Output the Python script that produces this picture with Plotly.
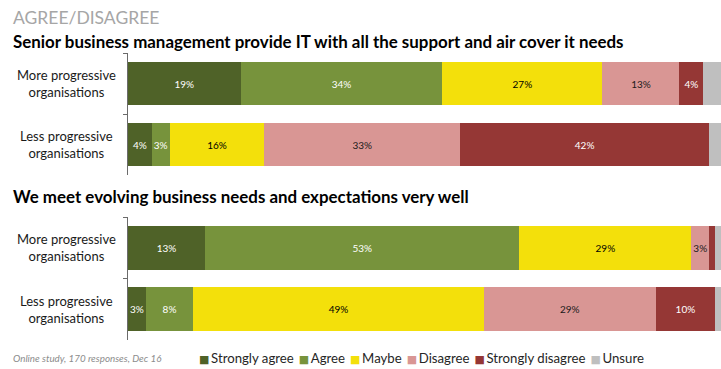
import plotly.graph_objects as go

# ---------------- data ----------------
categories = ["More progressive<br>organisations", "Less progressive<br>organisations"]
responses = ["Strongly agree", "Agree", "Maybe", "Disagree", "Strongly disagree", "Unsure"]

support_more = [19, 34, 27, 13, 4, 3]
support_less = [4, 3, 16, 33, 42, 2]
needs_more = [13, 53, 29, 3, 1, 1]
needs_less = [3, 8, 49, 29, 10, 1]

panel_titles = [
    "Senior business management provide IT with all the support and air cover it needs",
    "We meet evolving business needs and expectations very well",
]
header = "AGREE/DISAGREE"
footnote = "Online study, 170 responses, Dec 16"

# ---------------- style ----------------
colors = ["#4f6228", "#77933c", "#f3e00b", "#d99694", "#953735", "#bfbfbf"]
text_colors = ["white", "white", "black", "#1a1a1a", "white", "black"]
FONT = "Lato, 'DejaVu Sans', sans-serif"
W, H = 721, 369


def py(px):
    return 1 - px / H


fig = go.Figure()

panels = [(support_more, support_less, "x", "y"), (needs_more, needs_less, "x2", "y2")]
for p, (more, less, xa, ya) in enumerate(panels):
    for i, resp in enumerate(responses):
        vals = [more[i], less[i]]
        txt = [f"{v}%" if (v >= 3 and resp != "Unsure") else "" for v in vals]
        fig.add_trace(go.Bar(
            x=vals, y=categories, orientation="h", name=resp,
            marker=dict(color=colors[i], line=dict(width=0)),
            text=txt, textposition="inside", insidetextanchor="middle",
            textangle=0, constraintext="none",
            textfont=dict(color=text_colors[i], size=10, family=FONT),
            showlegend=False, xaxis=xa, yaxis=ya, hoverinfo="x+name",
        ))

x0 = 128 / W
axis_common = dict(type="category", autorange="reversed", showline=True,
                   linecolor="#6b6b6b", linewidth=1, ticks="outside",
                   tickson="boundaries", ticklen=4, tickcolor="#6b6b6b",
                   showticklabels=False, showgrid=False, zeroline=False)

fig.update_layout(
    width=W, height=H, margin=dict(l=0, r=0, t=0, b=0),
    paper_bgcolor="white", plot_bgcolor="white",
    barmode="stack", bargap=0.28, showlegend=False,
    font=dict(family=FONT, color="#222"),
    xaxis=dict(domain=[x0, 1], range=[0, 100], visible=False, anchor="y"),
    xaxis2=dict(domain=[x0, 1], range=[0, 100], visible=False, anchor="y2"),
    yaxis=dict(domain=[py(175), py(53)], anchor="x", **axis_common),
    yaxis2=dict(domain=[py(340), py(217)], anchor="x2", **axis_common),
)

annotations = []
# header & panel titles
annotations.append(dict(text=header, x=11 / W, y=py(17), xref="paper", yref="paper",
                        xanchor="left", yanchor="middle", showarrow=False,
                        font=dict(size=17.5, color="#a6a6a6", family=FONT)))
for t, ypx in zip(panel_titles, [41, 196]):
    annotations.append(dict(text=f"<b>{t}</b>", x=11 / W, y=py(ypx), xref="paper", yref="paper",
                            xanchor="left", yanchor="middle", showarrow=False,
                            font=dict(size=16.9, color="black", family=FONT)))
# category labels (centred, two lines)
for ya in ["y", "y2"]:
    for c in categories:
        annotations.append(dict(text=c, x=66 / W, y=c, xref="paper", yref=ya,
                                xanchor="center", yanchor="middle", align="center",
                                showarrow=False, font=dict(size=13, color="#1a1a1a", family=FONT)))
# footnote
annotations.append(dict(text=f"<i>{footnote}</i>", x=11 / W, y=py(358), xref="paper", yref="paper",
                        xanchor="left", yanchor="middle", showarrow=False,
                        font=dict(size=9.8, color="#8c8c8c", family=FONT)))
# legend
sep = "\u00a0\u2009"
parts = [f"<span style='color:{c};font-size:11px'>\u25a0</span>\u2009{r}" for r, c in zip(responses, colors)]
annotations.append(dict(text=sep.join(parts), x=197 / W, y=py(358), xref="paper", yref="paper",
                        xanchor="left", yanchor="middle", showarrow=False,
                        font=dict(size=13.2, color="#262626", family=FONT)))

fig.update_layout(annotations=annotations)
fig.write_html("out.html", config={"displayModeBar": False},
               post_script="document.body.style.margin='0px';")
